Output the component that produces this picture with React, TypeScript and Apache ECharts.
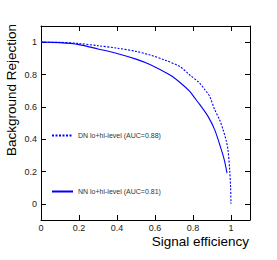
import React, { useEffect, useRef } from "react";
import * as echarts from "echarts";

const dnName = "DN lo+hi-level (AUC=0.88)";
const nnName = "NN lo+hi-level (AUC=0.81)";

const dnEff = [0, 0.1, 0.2, 0.3, 0.4, 0.5, 0.573, 0.65, 0.731, 0.78, 0.835, 0.862, 0.888, 0.914, 0.94, 0.958, 0.975, 0.984, 0.993, 0.998, 1.0];
const dnRej = [1.0, 0.999, 0.992, 0.978, 0.963, 0.943, 0.921, 0.89, 0.849, 0.8, 0.747, 0.706, 0.664, 0.583, 0.52, 0.459, 0.39, 0.335, 0.21, 0.1, 0.0];

const nnEff = [0, 0.1, 0.2, 0.3, 0.4, 0.5, 0.573, 0.677, 0.73, 0.783, 0.809, 0.835, 0.879, 0.914, 0.949, 0.965, 0.979];
const nnRej = [1.0, 0.997, 0.985, 0.958, 0.93, 0.895, 0.862, 0.798, 0.752, 0.695, 0.655, 0.615, 0.541, 0.459, 0.335, 0.27, 0.19];

const xTicks = [0, 0.2, 0.4, 0.6, 0.8, 1];
const yTicks = [0, 0.2, 0.4, 0.6, 0.8, 1];

const FONT = "Liberation Sans, Arial, Helvetica, sans-serif";
const BLUE = "#0000ff";

export default function App() {
  const ref = useRef<HTMLDivElement>(null);
  useEffect(() => {
    if (!ref.current) return;
    const chart = echarts.init(ref.current, undefined, { renderer: "svg" });
    const axisLine = { show: true, onZero: false, lineStyle: { color: "#000", width: 1 } };
    const mkX = (pos: string, labels: boolean) => ({
      type: "value",
      min: 0,
      max: 1.1,
      position: pos,
      axisLine,
      splitLine: { show: false },
      axisTick: { show: true, inside: true, length: 5, customValues: xTicks, lineStyle: { color: "#000" } },
      axisLabel: {
        show: labels,
        customValues: xTicks,
        fontSize: 9,
        margin: 3,
        color: "#222",
        fontFamily: FONT,
        formatter: (v: number) => String(v),
      },
    });
    const mkY = (pos: string, labels: boolean) => ({
      type: "value",
      min: -0.1,
      max: 1.1,
      position: pos,
      axisLine,
      splitLine: { show: false },
      axisTick: { show: true, inside: true, length: 5, customValues: yTicks, lineStyle: { color: "#000" } },
      axisLabel: {
        show: labels,
        customValues: yTicks,
        fontSize: 9,
        margin: 4,
        color: "#222",
        fontFamily: FONT,
        formatter: (v: number) => String(v),
      },
    });
    const legendBase = {
      left: 46,
      itemWidth: 21,
      itemHeight: 8,
      itemGap: 4,
      itemStyle: { opacity: 0 },
      textStyle: { fontSize: 7, color: "#333", fontFamily: FONT },
    };
    chart.setOption({
      animation: false,
      grid: { left: 41, right: 27, top: 26, bottom: 40, containLabel: false },
      xAxis: [mkX("bottom", true), mkX("top", false)],
      yAxis: [mkY("left", true), mkY("right", false)],
      legend: [
        { ...legendBase, data: [dnName], top: 127 },
        { ...legendBase, data: [nnName], top: 183 },
      ],
      series: [
        {
          name: dnName,
          type: "line",
          xAxisIndex: 0,
          yAxisIndex: 0,
          showSymbol: false,
          symbol: "none",
          smooth: 0.3,
          data: dnEff.map((x, i) => [x, dnRej[i]]),
          lineStyle: { color: BLUE, width: 1.1, type: [2, 1.5] },
          itemStyle: { color: BLUE },
        },
        {
          name: nnName,
          type: "line",
          xAxisIndex: 0,
          yAxisIndex: 0,
          showSymbol: false,
          symbol: "none",
          smooth: 0.3,
          data: nnEff.map((x, i) => [x, nnRej[i]]),
          lineStyle: { color: BLUE, width: 1.1, type: "solid" },
          itemStyle: { color: BLUE },
        },
      ],
      graphic: [
        {
          type: "text",
          x: 249,
          y: 241,
          style: {
            text: "Signal efficiency",
            fontSize: 13.5,
            fontFamily: FONT,
            fill: "#000",
            textAlign: "right",
            textVerticalAlign: "middle",
          },
        },
        {
          type: "text",
          x: 11,
          y: 24,
          rotation: Math.PI / 2,
          style: {
            text: "Background Rejection",
            fontSize: 13.5,
            fontFamily: FONT,
            fill: "#000",
            textAlign: "right",
            textVerticalAlign: "middle",
          },
        },
      ],
    });
    return () => chart.dispose();
  }, []);
  return (
    <div
      ref={ref}
      style={{ position: "fixed", left: 0, top: 0, width: 277, height: 260, background: "#fff" }}
    />
  );
}
